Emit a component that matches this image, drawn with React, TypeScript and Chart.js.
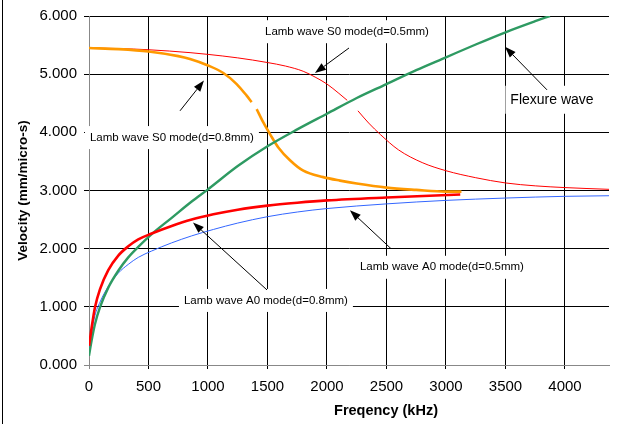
import React, { useEffect, useRef } from "react";
import { Chart, registerables } from "chart.js";

Chart.register(...registerables);

const FONT = "'Liberation Sans', Arial, sans-serif";

const X_MIN = 0;
const X_MAX = 4370;
const X_TICKS = [0, 500, 1000, 1500, 2000, 2500, 3000, 3500, 4000];
const Y_MIN = 0;
const Y_MAX = 6;
const Y_TICKS = [0, 1, 2, 3, 4, 5, 6];

type P = { x: number; y: number | null };

// Lamb wave S0 mode (d=0.5mm)
const s0Thin: P[] = [
  { x: 0, y: 5.45 }, { x: 250, y: 5.44 }, { x: 500, y: 5.42 }, { x: 849, y: 5.37 },
  { x: 1000, y: 5.34 }, { x: 1250, y: 5.28 }, { x: 1500, y: 5.2 }, { x: 1650, y: 5.14 },
  { x: 1800, y: 5.05 }, { x: 1900, y: 4.95 }, { x: 2000, y: 4.83 }, { x: 2100, y: 4.67 },
  { x: 2170, y: 4.55 }, { x: 2215, y: null },
  { x: 2260, y: 4.37 }, { x: 2350, y: 4.16 }, { x: 2450, y: 3.96 }, { x: 2600, y: 3.7 },
  { x: 2800, y: 3.48 }, { x: 3000, y: 3.34 }, { x: 3250, y: 3.22 }, { x: 3500, y: 3.13 },
  { x: 3750, y: 3.08 }, { x: 4000, y: 3.05 }, { x: 4370, y: 3.02 },
];

// Lamb wave S0 mode (d=0.8mm)
const s0Thick: P[] = [
  { x: 0, y: 5.45 }, { x: 250, y: 5.43 }, { x: 500, y: 5.39 }, { x: 750, y: 5.31 },
  { x: 849, y: 5.26 }, { x: 1000, y: 5.15 }, { x: 1129, y: 5.02 }, { x: 1241, y: 4.83 },
  { x: 1325, y: 4.63 }, { x: 1367, y: 4.52 }, { x: 1388, y: null },
  { x: 1409, y: 4.4 }, { x: 1465, y: 4.17 }, { x: 1521, y: 3.97 }, { x: 1591, y: 3.74 },
  { x: 1689, y: 3.52 }, { x: 1801, y: 3.34 }, { x: 1969, y: 3.23 }, { x: 2109, y: 3.17 },
  { x: 2250, y: 3.12 }, { x: 2500, y: 3.05 }, { x: 2750, y: 3.01 }, { x: 3000, y: 2.98 },
  { x: 3130, y: 2.98 },
];

// Flexure wave
const flexure: P[] = [
  { x: 0, y: 0.16 }, { x: 22, y: 0.42 }, { x: 50, y: 0.7 }, { x: 92, y: 0.99 },
  { x: 162, y: 1.33 }, { x: 246, y: 1.62 }, { x: 330, y: 1.85 }, { x: 414, y: 2.03 },
  { x: 527, y: 2.25 }, { x: 695, y: 2.53 }, { x: 863, y: 2.81 }, { x: 1000, y: 3.02 },
  { x: 1250, y: 3.42 }, { x: 1500, y: 3.76 }, { x: 1750, y: 4.05 }, { x: 2000, y: 4.32 },
  { x: 2250, y: 4.59 }, { x: 2500, y: 4.83 }, { x: 2750, y: 5.07 }, { x: 3000, y: 5.29 },
  { x: 3250, y: 5.51 }, { x: 3500, y: 5.72 }, { x: 3750, y: 5.91 }, { x: 3874, y: 6.0 },
];

// Lamb wave A0 mode (d=0.8mm)
const a0Thick: P[] = [
  { x: 0, y: 0.33 }, { x: 22, y: 0.64 }, { x: 50, y: 0.99 }, { x: 92, y: 1.3 },
  { x: 162, y: 1.63 }, { x: 246, y: 1.88 }, { x: 330, y: 2.04 }, { x: 414, y: 2.16 },
  { x: 527, y: 2.26 }, { x: 695, y: 2.39 }, { x: 863, y: 2.5 }, { x: 1045, y: 2.59 },
  { x: 1250, y: 2.67 }, { x: 1500, y: 2.74 }, { x: 1750, y: 2.79 }, { x: 2000, y: 2.83 },
  { x: 2500, y: 2.88 }, { x: 3120, y: 2.93 },
];

// Lamb wave A0 mode (d=0.5mm)
const a0Thin: P[] = [
  { x: 0, y: 0.22 }, { x: 22, y: 0.55 }, { x: 50, y: 0.85 }, { x: 92, y: 1.08 },
  { x: 162, y: 1.35 }, { x: 246, y: 1.58 }, { x: 330, y: 1.73 }, { x: 414, y: 1.85 },
  { x: 527, y: 1.96 }, { x: 695, y: 2.1 }, { x: 863, y: 2.22 }, { x: 1045, y: 2.33 },
  { x: 1250, y: 2.44 }, { x: 1500, y: 2.55 }, { x: 1750, y: 2.63 }, { x: 2000, y: 2.69 },
  { x: 2500, y: 2.77 }, { x: 3000, y: 2.83 }, { x: 3500, y: 2.87 }, { x: 4000, y: 2.9 },
  { x: 4370, y: 2.91 },
];

// Annotation labels (text, centre in data units, font size)
const labelTexts = [
  "Lamb wave S0 mode(d=0.5mm)",
  "Lamb wave S0 mode(d=0.8mm)",
  "Flexure wave",
  "Lamb wave A0 mode(d=0.8mm)",
  "Lamb wave A0 mode(d=0.5mm)",
];
const labelCenters: [number, number][] = [
  [2168, 5.73], [697, 3.91], [3891, 4.56], [1487, 1.11], [2966, 1.68],
];
const labelSizes = [11.5, 11.5, 14, 11.5, 11.5];
const arrowTails: [number, number][] = [
  [2185, 5.45], [765, 4.37], [3849, 4.73], [1496, 1.29], [2538, 2.0],
];
const arrowHeads: [number, number][] = [
  [1899, 5.02], [966, 4.89], [3496, 5.47], [874, 2.45], [2193, 2.66],
];

const X_TITLE = "Freqency (kHz)";
const Y_TITLE = "Velocity (mm/micro-s)";

const annotPlugin = {
  id: "annots",
  beforeDatasetsDraw(chart: any) {
    const { ctx, scales } = chart;
    const xs = scales.x, ys = scales.y;
    ctx.save();
    labelTexts.forEach((t, i) => {
      ctx.font = `${labelSizes[i]}px ${FONT}`;
      const w = ctx.measureText(t).width;
      const cx = xs.getPixelForValue(labelCenters[i][0]);
      const cy = ys.getPixelForValue(labelCenters[i][1]);
      const h = labelSizes[i] * 2;
      ctx.fillStyle = "#fff";
      ctx.fillRect(cx - w / 2 - 5, cy - h / 2, w + 10, h);
    });
    ctx.restore();
  },
  afterDatasetsDraw(chart: any) {
    const { ctx, scales } = chart;
    const xs = scales.x, ys = scales.y;
    ctx.save();
    labelTexts.forEach((t, i) => {
      ctx.font = `${labelSizes[i]}px ${FONT}`;
      ctx.fillStyle = "#000";
      ctx.textAlign = "center";
      ctx.textBaseline = "middle";
      const cx = xs.getPixelForValue(labelCenters[i][0]);
      const cy = ys.getPixelForValue(labelCenters[i][1]);
      ctx.fillText(t, cx, cy);
      const x1 = xs.getPixelForValue(arrowTails[i][0]);
      const y1 = ys.getPixelForValue(arrowTails[i][1]);
      const x2 = xs.getPixelForValue(arrowHeads[i][0]);
      const y2 = ys.getPixelForValue(arrowHeads[i][1]);
      const ang = Math.atan2(y2 - y1, x2 - x1);
      const L = 11, W = 4;
      const bx = x2 - L * Math.cos(ang), by = y2 - L * Math.sin(ang);
      ctx.strokeStyle = "#000";
      ctx.lineWidth = 1;
      ctx.beginPath();
      ctx.moveTo(x1, y1);
      ctx.lineTo(bx, by);
      ctx.stroke();
      ctx.beginPath();
      ctx.moveTo(x2, y2);
      ctx.lineTo(bx + W * Math.sin(ang), by - W * Math.cos(ang));
      ctx.lineTo(bx - W * Math.sin(ang), by + W * Math.cos(ang));
      ctx.closePath();
      ctx.fillStyle = "#000";
      ctx.fill();
    });
    ctx.restore();
  },
  afterDraw(chart: any) {
    const { ctx, chartArea } = chart;
    ctx.save();
    ctx.fillStyle = "#000";
    ctx.font = `bold 14.5px ${FONT}`;
    ctx.textAlign = "center";
    ctx.textBaseline = "middle";
    ctx.fillText(X_TITLE, 386, 411);
    ctx.translate(23, (chartArea.top + chartArea.bottom) / 2);
    ctx.rotate(-Math.PI / 2);
    ctx.font = `bold 13.5px ${FONT}`;
    ctx.fillText(Y_TITLE, 0, 0);
    ctx.restore();
    ctx.save();
    ctx.strokeStyle = "#000";
    ctx.lineWidth = 1;
    ctx.beginPath();
    ctx.moveTo(2.5, 0);
    ctx.lineTo(2.5, 424);
    ctx.stroke();
    ctx.restore();
  },
};

function ds(label: string, data: P[], color: string, width: number, order: number) {
  return {
    label,
    data,
    borderColor: color,
    backgroundColor: color,
    borderWidth: width,
    pointRadius: 0,
    showLine: true,
    fill: false,
    spanGaps: false,
    cubicInterpolationMode: "monotone" as const,
    order,
  };
}

export default function App() {
  const ref = useRef<HTMLCanvasElement>(null);
  useEffect(() => {
    if (!ref.current) return;
    const chart = new Chart(ref.current, {
      type: "scatter",
      data: {
        datasets: [
          ds("Lamb wave A0 mode(d=0.8mm)", a0Thick, "#ff0000", 2.6, 1),
          ds("Flexure wave", flexure, "#2e9a62", 2.4, 2),
          ds("Lamb wave S0 mode(d=0.8mm)", s0Thick, "#ff9900", 2.6, 3),
          ds("Lamb wave S0 mode(d=0.5mm)", s0Thin, "#ff0000", 1, 4),
          ds("Lamb wave A0 mode(d=0.5mm)", a0Thin, "#3366ff", 1, 5),
        ],
      },
      options: {
        animation: false,
        responsive: false,
        devicePixelRatio: 1,
        layout: { padding: { top: 15, right: 17, left: 0, bottom: 0 } },
        plugins: { legend: { display: false }, tooltip: { enabled: false } },
        scales: {
          x: {
            type: "linear",
            min: X_MIN,
            max: X_MAX,
            afterFit: (s: any) => { s.height = 59; },
            afterBuildTicks: (s: any) => { s.ticks = X_TICKS.map((v) => ({ value: v })); },
            ticks: {
              autoSkip: false,
              color: "#000",
              font: { family: FONT, size: 15 },
              padding: 9,
              maxRotation: 0,
              callback: (v: any) => String(v),
            },
            grid: {
              color: (c: any) => (c.tick && c.tick.value === 0 ? "#888" : "#000"),
              lineWidth: 1,
              tickLength: 4,
            },
            border: { color: "#888" },
          },
          y: {
            type: "linear",
            min: Y_MIN,
            max: Y_MAX,
            afterFit: (s: any) => { s.width = 89; },
            afterBuildTicks: (s: any) => { s.ticks = Y_TICKS.map((v) => ({ value: v })); },
            ticks: {
              autoSkip: false,
              color: "#000",
              font: { family: FONT, size: 15 },
              padding: 7,
              callback: (v: any) => Number(v).toFixed(3),
            },
            grid: {
              color: (c: any) => (c.tick && c.tick.value === 0 ? "#888" : "#000"),
              lineWidth: 1,
              tickLength: 5,
            },
            border: { color: "#888" },
          },
        },
      },
      plugins: [annotPlugin],
    });
    return () => chart.destroy();
  }, []);
  return (
    <div style={{ position: "fixed", left: 0, top: 0, width: 626, height: 424, background: "#fff" }}>
      <canvas ref={ref} width={626} height={424} style={{ display: "block" }} />
    </div>
  );
}
